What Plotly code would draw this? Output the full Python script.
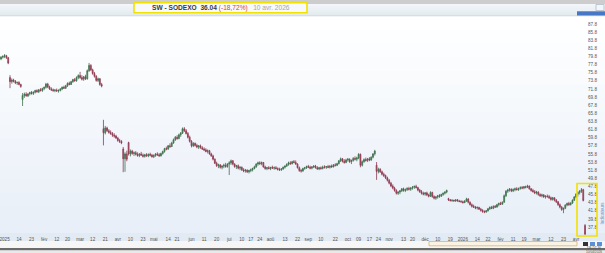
import pandas as pd
import plotly.graph_objects as go

# ---------------- data ----------------
HOLIDAYS = ["2025-01-01", "2025-04-18", "2025-04-21", "2025-05-01", "2025-12-25",
            "2025-12-26", "2026-01-01", "2026-04-03", "2026-04-06"]
DATES = [d.strftime("%Y-%m-%d") for d in pd.bdate_range("2024-12-30", "2026-04-10")
         if d.strftime("%Y-%m-%d") not in HOLIDAYS]

OPEN = [
    79.2, 79.6, 79.8, 80.0, 79.5, 74.6, 73.6, 74.0, 73.7, 73.3,
    73.4, 72.9, 69.2, 70.2, 70.5, 70.1, 70.6, 70.9, 70.7, 71.0,
    71.4, 71.1, 71.6, 71.4, 71.9, 72.2, 73.0, 72.3, 71.8, 71.6,
    71.4, 71.5, 71.3, 71.4, 71.8, 72.2, 72.0, 72.6, 73.2, 72.9,
    73.6, 74.1, 73.8, 74.6, 75.1, 74.6, 74.2, 74.8, 74.3, 76.3,
    77.6, 76.5, 75.6, 74.9, 73.9, 74.3, 72.9, 62.0, 61.0, 62.2,
    61.5, 61.1, 60.8, 60.4, 60.2, 59.7, 59.1, 58.9, 57.0, 54.6,
    55.8, 58.6, 55.8, 56.5, 55.9, 56.1, 55.7, 55.4, 55.8, 55.5,
    55.2, 55.6, 55.3, 55.7, 55.5, 55.1, 55.4, 55.8, 55.6, 55.3,
    55.9, 56.4, 57.1, 57.0, 57.8, 57.6, 58.5, 59.3, 59.9, 59.6,
    60.5, 60.9, 62.0, 61.5, 60.8, 59.9, 58.9, 57.8, 58.4, 57.9,
    57.5, 57.8, 57.3, 57.0, 56.8, 56.4, 56.6, 55.8, 55.3, 54.5,
    53.5, 52.9, 53.1, 52.5, 52.8, 53.0, 52.7, 53.3, 53.6, 54.1,
    53.3, 52.7, 52.9, 52.3, 52.5, 51.9, 51.6, 51.8, 51.4, 51.7,
    51.9, 52.2, 52.6, 53.3, 53.6, 53.4, 53.7, 52.6, 52.2, 52.4,
    52.2, 52.5, 52.3, 52.4, 52.2, 52.0, 51.9, 52.1, 52.5, 52.8,
    53.2, 53.6, 53.4, 53.9, 53.7, 53.3, 52.4, 51.7, 51.6, 52.2,
    52.4, 52.7, 52.5, 52.3, 52.6, 52.8, 52.4, 52.1, 52.4, 52.2,
    52.6, 52.5, 52.7, 52.5, 52.8, 52.6, 53.1, 53.0, 53.4, 54.1,
    54.6, 54.0, 53.7, 54.3, 54.5, 53.9, 54.2, 54.7, 54.5, 54.8,
    55.7, 53.0, 53.9, 54.4, 54.2, 54.6, 54.3, 55.0, 55.8, 53.0,
    51.5, 52.0, 51.4, 50.8, 50.5, 49.9, 49.3, 48.6, 47.9, 47.4,
    46.8, 46.1, 46.4, 46.7, 47.2, 46.8, 47.0, 47.3, 47.1, 47.4,
    47.6, 47.8, 47.5, 46.9, 46.5, 46.1, 45.9, 46.2, 45.7, 45.4,
    46.3, 45.3, 44.9, 45.2, 45.5, 45.4, 45.8, 46.1, 46.4, 44.8,
    44.5, 44.3, 44.4, 44.2, 44.5, 44.2, 44.1, 44.0, 43.8, 44.2,
    44.7, 43.9, 43.3, 42.9, 42.7, 42.5, 42.6, 42.2, 41.9, 41.6,
    41.5, 41.8, 42.3, 42.6, 42.4, 42.9, 42.7, 43.3, 43.6, 43.4,
    43.9, 45.5, 46.6, 46.9, 47.1, 46.7, 47.0, 47.2, 47.0, 47.3,
    47.5, 47.4, 47.7, 47.6, 47.9, 47.2, 46.8, 46.5, 46.2, 46.4,
    45.8, 45.5, 45.7, 45.2, 45.4, 45.3, 45.0, 44.6, 45.0, 44.4,
    44.0, 43.3, 42.7, 42.1, 42.4, 43.2, 43.6, 43.3, 43.7, 44.4,
    45.2, 45.9, 46.3, 46.6, 47.0, 38.2,
]
HIGH = [
    79.9, 80.1, 80.4, 80.2, 79.7, 75.2, 74.4, 74.3, 74.0, 73.6,
    73.7, 73.1, 70.8, 70.9, 71.0, 70.7, 71.1, 71.3, 71.2, 71.6,
    71.7, 71.8, 72.0, 72.1, 72.4, 73.3, 73.3, 72.6, 72.2, 71.9,
    71.8, 71.9, 71.7, 72.0, 72.4, 72.6, 72.8, 73.4, 73.6, 73.8,
    74.3, 74.5, 74.9, 75.4, 76.0, 75.2, 75.0, 75.3, 76.6, 78.2,
    77.9, 76.8, 76.0, 75.2, 74.6, 74.5, 73.3, 64.2, 62.7, 62.5,
    61.9, 61.6, 61.2, 60.9, 60.5, 60.0, 59.5, 59.2, 57.5, 56.2,
    56.6, 58.8, 56.9, 56.8, 56.4, 56.5, 56.2, 56.0, 56.3, 55.9,
    55.8, 56.0, 55.9, 56.1, 55.8, 55.7, 56.0, 56.2, 56.0, 56.1,
    56.6, 57.3, 57.6, 58.0, 58.4, 58.8, 59.6, 60.2, 60.4, 60.8,
    61.2, 62.3, 62.4, 61.9, 61.2, 60.3, 59.2, 58.7, 58.6, 58.3,
    58.0, 58.1, 57.7, 57.4, 57.2, 56.9, 56.8, 56.1, 55.6, 54.7,
    53.9, 53.4, 53.3, 53.0, 53.4, 53.6, 53.5, 54.0, 54.4, 54.3,
    53.5, 53.1, 53.2, 52.8, 52.7, 52.3, 52.1, 52.0, 51.9, 52.2,
    52.4, 52.9, 53.5, 53.9, 54.0, 53.9, 53.8, 52.9, 52.6, 52.8,
    52.6, 52.9, 52.7, 52.8, 52.5, 52.4, 52.3, 52.7, 53.0, 53.5,
    53.9, 54.0, 54.1, 54.3, 54.2, 53.5, 52.7, 52.1, 52.4, 52.6,
    52.9, 53.1, 52.9, 52.8, 53.0, 53.1, 52.8, 52.6, 52.7, 52.9,
    53.0, 52.8, 53.1, 53.0, 53.2, 53.3, 53.5, 53.6, 54.3, 54.9,
    54.8, 54.5, 54.6, 54.8, 54.7, 54.4, 55.0, 55.2, 55.1, 56.0,
    55.9, 54.2, 54.7, 54.9, 54.8, 55.0, 55.2, 56.0, 56.8, 53.8,
    52.4, 52.3, 51.7, 51.2, 50.7, 50.2, 49.6, 48.9, 48.3, 47.7,
    47.1, 46.6, 46.9, 47.4, 47.5, 47.3, 47.6, 47.7, 47.6, 47.9,
    48.0, 48.2, 47.7, 47.2, 46.9, 46.5, 46.4, 46.5, 46.0, 46.6,
    46.5, 45.6, 45.4, 45.7, 45.9, 46.0, 46.3, 46.6, 47.0, 45.0,
    44.7, 44.6, 44.5, 44.6, 44.7, 44.5, 44.4, 44.3, 44.4, 45.0,
    44.9, 44.1, 43.6, 43.3, 43.0, 42.9, 42.8, 42.5, 42.2, 41.9,
    42.0, 42.5, 42.9, 43.0, 43.1, 43.2, 43.5, 43.8, 44.0, 44.1,
    45.8, 46.9, 47.2, 47.4, 47.3, 47.3, 47.5, 47.6, 47.5, 47.8,
    47.9, 47.9, 48.0, 48.2, 48.0, 47.4, 47.2, 46.9, 46.7, 46.6,
    46.1, 46.0, 45.9, 45.6, 45.8, 45.7, 45.3, 45.2, 45.1, 44.7,
    44.2, 43.6, 43.0, 42.6, 43.4, 43.8, 44.0, 43.9, 44.6, 45.4,
    46.1, 46.6, 46.9, 47.4, 47.2, 38.5,
]
LOW = [
    78.9, 79.3, 79.4, 79.2, 77.9, 72.0, 73.1, 73.4, 73.0, 72.8,
    72.7, 72.1, 67.6, 69.6, 69.9, 69.8, 70.2, 70.4, 70.3, 70.7,
    70.9, 70.8, 71.2, 71.1, 71.5, 71.9, 72.0, 71.6, 71.3, 71.1,
    71.0, 71.1, 70.9, 71.2, 71.5, 71.8, 71.8, 72.3, 72.7, 72.8,
    73.3, 73.6, 73.6, 74.2, 74.3, 73.9, 73.8, 74.0, 74.1, 76.0,
    76.2, 75.3, 74.6, 73.6, 73.5, 72.6, 72.2, 57.9, 60.6, 61.2,
    60.8, 60.5, 60.0, 59.8, 59.5, 58.8, 58.5, 58.2, 51.3, 51.4,
    54.0, 55.4, 55.2, 55.6, 55.3, 55.4, 55.1, 55.0, 55.3, 54.9,
    54.9, 55.1, 55.0, 55.2, 54.9, 54.8, 55.1, 55.3, 55.1, 55.2,
    55.6, 56.1, 56.7, 56.8, 57.3, 57.5, 58.3, 59.0, 59.3, 59.4,
    60.0, 60.7, 61.2, 60.6, 59.6, 58.6, 57.4, 57.5, 57.6, 57.2,
    57.0, 57.1, 56.8, 56.5, 56.2, 55.9, 55.6, 55.1, 54.2, 53.3,
    52.6, 52.3, 52.2, 52.0, 52.3, 52.4, 52.4, 50.6, 53.1, 53.0,
    52.4, 52.1, 52.0, 51.8, 51.6, 51.3, 51.2, 51.1, 51.0, 51.3,
    51.5, 52.0, 52.4, 52.9, 53.1, 53.0, 52.4, 51.9, 51.8, 52.0,
    51.8, 52.1, 51.9, 52.0, 51.7, 51.6, 51.6, 51.9, 52.2, 52.6,
    52.9, 53.1, 53.2, 53.5, 53.1, 52.2, 51.4, 51.2, 51.4, 51.9,
    52.1, 52.3, 52.0, 52.0, 52.3, 52.2, 51.9, 51.8, 51.9, 52.0,
    52.2, 52.1, 52.3, 52.2, 52.4, 52.5, 52.7, 52.8, 53.2, 53.8,
    53.7, 53.4, 53.5, 53.9, 53.6, 53.3, 53.9, 54.2, 54.0, 54.5,
    52.5, 52.7, 53.6, 53.9, 53.8, 54.0, 54.1, 54.7, 55.4, 49.4,
    51.0, 51.1, 50.5, 50.1, 49.6, 49.0, 48.3, 47.6, 47.1, 46.5,
    45.8, 45.7, 45.9, 46.4, 46.5, 46.4, 46.7, 46.8, 46.7, 47.0,
    47.2, 47.3, 46.6, 46.2, 45.8, 45.6, 45.5, 45.4, 45.1, 45.2,
    45.0, 44.6, 44.5, 44.8, 45.0, 45.2, 45.5, 45.8, 46.1, 44.2,
    44.1, 44.0, 44.1, 44.0, 44.1, 43.9, 43.8, 43.6, 43.7, 44.0,
    43.6, 43.1, 42.6, 42.5, 42.2, 42.1, 42.0, 41.6, 41.3, 41.2,
    41.3, 41.6, 42.0, 42.2, 42.2, 42.5, 42.6, 42.9, 43.2, 43.3,
    43.8, 45.2, 46.2, 46.5, 46.4, 46.4, 46.6, 46.8, 46.7, 47.0,
    47.1, 47.1, 47.3, 47.4, 47.0, 46.5, 46.3, 45.9, 45.8, 45.5,
    45.2, 45.1, 45.0, 44.8, 45.0, 44.7, 44.3, 44.3, 44.1, 43.7,
    43.0, 42.4, 41.8, 41.2, 42.2, 42.9, 43.0, 43.1, 43.5, 44.2,
    44.9, 45.3, 45.8, 46.2, 44.1, 35.9,
]
CLOSE = [
    79.6, 79.8, 80.0, 79.5, 78.2, 73.6, 74.0, 73.7, 73.3, 73.4,
    72.9, 72.4, 70.2, 70.5, 70.1, 70.6, 70.9, 70.7, 71.0, 71.4,
    71.1, 71.6, 71.4, 71.9, 72.2, 73.0, 72.3, 71.8, 71.6, 71.4,
    71.5, 71.3, 71.4, 71.8, 72.2, 72.0, 72.6, 73.2, 72.9, 73.6,
    74.1, 73.8, 74.6, 75.1, 74.6, 74.2, 74.8, 74.3, 76.3, 77.6,
    76.5, 75.6, 74.9, 73.9, 74.3, 72.9, 72.5, 61.0, 62.2, 61.5,
    61.1, 60.8, 60.4, 60.2, 59.7, 59.1, 58.9, 58.5, 54.6, 55.8,
    54.5, 55.8, 56.5, 55.9, 56.1, 55.7, 55.4, 55.8, 55.5, 55.2,
    55.6, 55.3, 55.7, 55.5, 55.1, 55.4, 55.8, 55.6, 55.3, 55.9,
    56.4, 57.1, 57.0, 57.8, 57.6, 58.5, 59.3, 59.9, 59.6, 60.5,
    60.9, 62.0, 61.5, 60.8, 59.9, 58.9, 57.8, 58.4, 57.9, 57.5,
    57.8, 57.3, 57.0, 56.8, 56.4, 56.6, 55.8, 55.3, 54.5, 53.5,
    52.9, 53.1, 52.5, 52.8, 53.0, 52.7, 53.3, 53.6, 54.1, 53.3,
    52.7, 52.9, 52.3, 52.5, 51.9, 51.6, 51.8, 51.4, 51.7, 51.9,
    52.2, 52.6, 53.3, 53.6, 53.4, 53.7, 52.6, 52.2, 52.4, 52.2,
    52.5, 52.3, 52.4, 52.2, 52.0, 51.9, 52.1, 52.5, 52.8, 53.2,
    53.6, 53.4, 53.9, 53.7, 53.3, 52.4, 51.7, 51.6, 52.2, 52.4,
    52.7, 52.5, 52.3, 52.6, 52.8, 52.4, 52.1, 52.4, 52.2, 52.6,
    52.5, 52.7, 52.5, 52.8, 52.6, 53.1, 53.0, 53.4, 54.1, 54.6,
    54.0, 53.7, 54.3, 54.5, 53.9, 54.2, 54.7, 54.5, 54.8, 55.7,
    53.0, 53.9, 54.4, 54.2, 54.6, 54.3, 55.0, 55.8, 56.5, 51.5,
    52.0, 51.4, 50.8, 50.5, 49.9, 49.3, 48.6, 47.9, 47.4, 46.8,
    46.1, 46.4, 46.7, 47.2, 46.8, 47.0, 47.3, 47.1, 47.4, 47.6,
    47.8, 47.5, 46.9, 46.5, 46.1, 45.9, 46.2, 45.7, 45.4, 46.3,
    45.3, 44.9, 45.2, 45.5, 45.4, 45.8, 46.1, 46.4, 46.8, 44.5,
    44.3, 44.4, 44.2, 44.5, 44.2, 44.1, 44.0, 43.8, 44.2, 44.7,
    43.9, 43.3, 42.9, 42.7, 42.5, 42.6, 42.2, 41.9, 41.6, 41.5,
    41.8, 42.3, 42.6, 42.4, 42.9, 42.7, 43.3, 43.6, 43.4, 43.9,
    45.5, 46.6, 46.9, 47.1, 46.7, 47.0, 47.2, 47.0, 47.3, 47.5,
    47.4, 47.7, 47.6, 47.9, 47.2, 46.8, 46.5, 46.2, 46.4, 45.8,
    45.5, 45.7, 45.2, 45.4, 45.3, 45.0, 44.6, 45.0, 44.4, 44.0,
    43.3, 42.7, 42.1, 42.4, 43.2, 43.6, 43.3, 43.7, 44.4, 45.2,
    45.9, 46.3, 46.6, 47.0, 44.34, 36.04,
]

TICK_DATES = ["2025-01-02", "2025-01-14", "2025-01-23", "2025-02-03", "2025-02-12", "2025-02-20",
              "2025-03-03", "2025-03-12", "2025-03-21", "2025-04-01", "2025-04-10", "2025-04-23",
              "2025-05-02", "2025-05-14", "2025-05-21", "2025-06-02", "2025-06-11", "2025-06-20",
              "2025-07-01", "2025-07-10", "2025-07-17", "2025-07-24", "2025-08-01", "2025-08-13",
              "2025-08-22", "2025-09-01", "2025-09-10", "2025-09-22", "2025-10-01", "2025-10-09",
              "2025-10-17", "2025-10-24", "2025-11-03", "2025-11-13", "2025-11-20", "2025-12-01",
              "2025-12-10", "2025-12-19", "2026-01-02", "2026-01-14", "2026-01-22", "2026-02-02",
              "2026-02-11", "2026-02-19", "2026-03-02", "2026-03-12", "2026-03-23", "2026-04-01"]
TICK_LABELS = ["2025", "14", "23", "fév", "12", "20", "mar", "12", "21", "avr", "10", "23",
               "mai", "14", "21", "jun", "11", "20", "jui", "10", "17", "24", "aoû", "13",
               "22", "sep", "10", "22", "oct", "09", "17", "24", "nov", "13", "20", "déc",
               "10", "19", "2026", "14", "22", "fév", "11", "19", "mar", "12", "23", "avr"]
Y_TICKS = [37.8, 39.8, 41.8, 43.8, 45.8, 47.8, 49.8, 51.8, 53.8, 55.8, 57.8, 59.8, 61.8,
           63.8, 65.8, 67.8, 69.8, 71.8, 73.8, 75.8, 77.8, 79.8, 81.8, 83.8, 85.8, 87.8]

TICKER = "SW - SODEXO"
LAST = "36.04"
CHANGE = "(-18,72%)"
DATE_TXT = "10 avr. 2026"

# ---------------- layout helpers ----------------
W, H = 605, 253
FONT = "Liberation Sans, Arial, sans-serif"


def rect(x0, y0, x1, y1, fill, line=None, lw=0, layer="below"):
    return dict(type="rect", xref="paper", yref="paper",
                x0=x0 / W, x1=x1 / W, y0=1 - y1 / H, y1=1 - y0 / H,
                fillcolor=fill, line=dict(width=lw, color=line or fill), layer=layer)


shapes = []
# top bars
shapes.append(rect(0, 0, W, 4, "#cdcdcd"))
for i in range(6):
    c0 = (242 - i * 3, 245 - i * 2, 249 - i * 2)
    shapes.append(rect(0, 4 + i * 2, W, 6 + i * 2, "rgb(%d,%d,%d)" % c0))
shapes.append(rect(0, 15.5, W, 16.5, "#c9d4e0"))
shapes.append(rect(577, 11.3, W, 15.5, "#4677c6"))
shapes.append(rect(596, 4.5, 604, 10.5, "#f4f6f9", "#9aaabb", 0.6))
# chart background gradient
top_c, bot_c = (255, 255, 255), (232, 239, 248)
n = 16
y_a, y_b = 16.5, 233
for i in range(n):
    t = i / (n - 1)
    c = tuple(round(top_c[k] + (bot_c[k] - top_c[k]) * t) for k in range(3))
    shapes.append(rect(0, y_a + (y_b - y_a) * i / n, W, y_a + (y_b - y_a) * (i + 1) / n + 0.5,
                       "rgb(%d,%d,%d)" % c))
# x label strip and bottom bars
shapes.append(rect(0, 233, W, 241, "#e2eaf4"))
shapes.append(rect(0, 241, W, 248, "#f6f6f6"))
shapes.append(rect(429, 241.5, 577, 245.8, "#fbf3e1", "#d9b36c", 0.8))
shapes.append(rect(0, 248, W, 250.5, "#6b6b6b"))
shapes.append(rect(0, 250.5, W, H, "#e9e9e9"))
shapes.append(rect(583, 242, 588, 246, "#333333"))
shapes.append(rect(590, 242, 595, 246, "#5b8fd6"))
shapes.append(rect(597, 242, 602, 246, "#5b8fd6"))
# yellow highlight boxes
shapes.append(rect(134, 2.7, 307, 12.7, "rgba(248,250,252,0.9)", "#f2e200", 1.6, layer="above"))
shapes.append(rect(577, 183.5, 597, 236, "rgba(0,0,0,0)", "#f2e200", 1.6, layer="above"))

annotations = [
    dict(xref="paper", yref="paper", x=220.5 / W, y=1 - 7.8 / H, xanchor="center", yanchor="middle",
         showarrow=False, font=dict(family=FONT, size=6.6, color="#3a3a3a"),
         text="<b>%s</b>  <b>%s</b> <span style='color:#e23b3b'>%s</span>   "
              "<span style='color:#a6a6a6'>%s</span>" % (TICKER, LAST, CHANGE, DATE_TXT)),
    dict(xref="paper", yref="paper", x=601.5 / W, y=1 - 213 / H, xanchor="center", yanchor="middle",
         showarrow=False, textangle=-90, font=dict(family=FONT, size=4.5, color="#6f8fbf"),
         text="Indicateurs"),
    dict(xref="paper", yref="paper", x=594 / W, y=1 - 249.5 / H, xanchor="center", yanchor="middle",
         showarrow=False, font=dict(family=FONT, size=3.2, color="#555555"),
         text="DB-DT 36<br>10/04/2026"),
]

fig = go.Figure(go.Candlestick(
    x=DATES, open=OPEN, high=HIGH, low=LOW, close=CLOSE,
    increasing=dict(line=dict(color="#3f6f4c", width=0.8), fillcolor="#3d9a5b"),
    decreasing=dict(line=dict(color="#8e3a50", width=0.8), fillcolor="#b9405f"),
    whiskerwidth=0, showlegend=False, hoverinfo="skip",
))

x_right_px = 587.0
px_per_day = 1.797
x0_px = 1.015
y_top_px, y_bot_px = 16.5, 235.0
p_per_px = 1 / 4.06


def price_at(ypx):
    return 87.8 - (ypx - 24.0) * p_per_px


fig.update_layout(
    width=W, height=H, margin=dict(l=0, r=0, t=0, b=0),
    paper_bgcolor="#ffffff", plot_bgcolor="rgba(0,0,0,0)",
    font=dict(family=FONT, size=4.6, color="#555555"),
    shapes=shapes, annotations=annotations,
    xaxis=dict(type="category", domain=[0, x_right_px / W],
               range=[-x0_px / px_per_day, (x_right_px - x0_px) / px_per_day],
               tickmode="array", tickvals=TICK_DATES, ticktext=TICK_LABELS,
               showgrid=False, zeroline=False, showline=False, ticks="",
               rangeslider=dict(visible=False), tickfont=dict(size=4.6, color="#555555"),
               tickangle=0, fixedrange=True),
    yaxis=dict(side="right", domain=[1 - y_bot_px / H, 1 - y_top_px / H],
               range=[price_at(y_bot_px), price_at(y_top_px)],
               tickmode="array", tickvals=Y_TICKS, tickformat=".1f",
               showgrid=False, zeroline=False, showline=False, ticks="",
               tickfont=dict(size=4.6, color="#555555"), fixedrange=True),
)

fig.write_html("out.html")
